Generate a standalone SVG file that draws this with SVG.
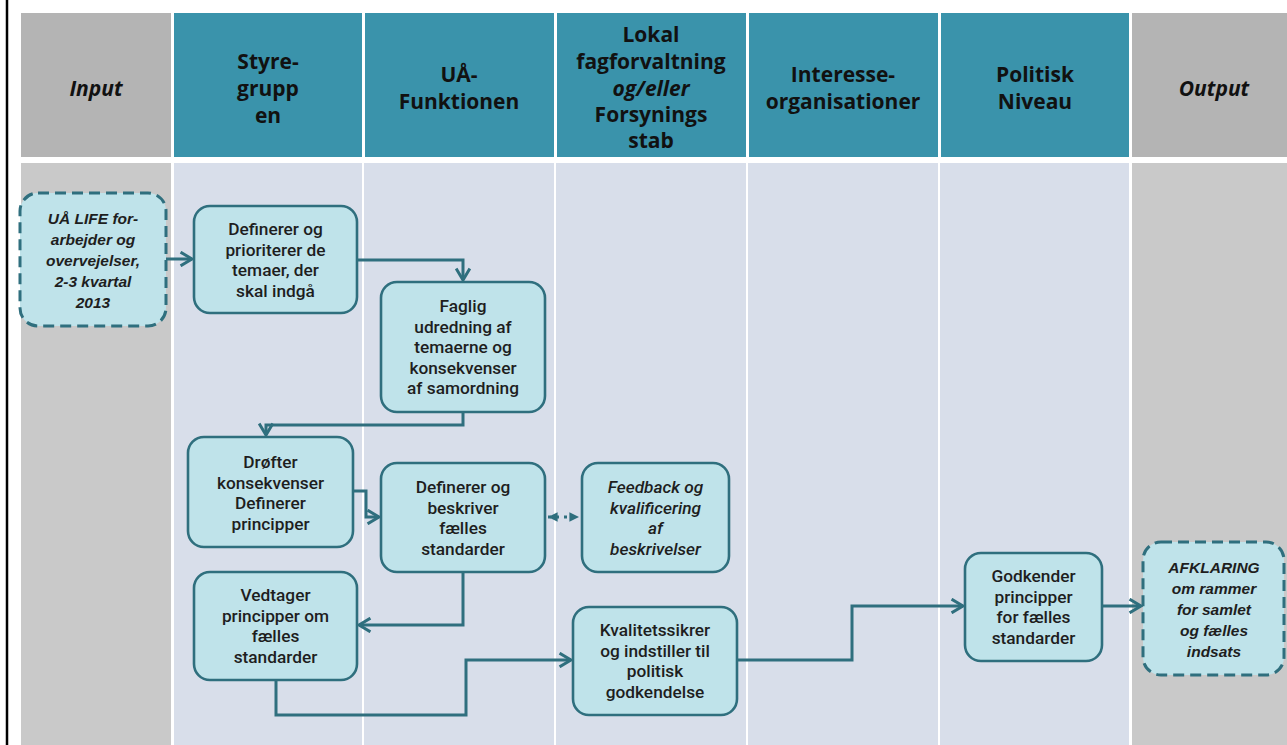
<svg xmlns="http://www.w3.org/2000/svg" width="1287" height="745" viewBox="0 0 1287 745">
<defs>
<style>
.hdr{fill:#3A93AB}
.hgray{fill:#B4B4B4}
.lane{fill:#D8DEEA}
.bgray{fill:#C9C9C9}
.ht{font-family:"Open Sans","Liberation Sans",sans-serif;font-weight:700;font-size:21px;fill:#111;text-anchor:middle}
.hti{font-style:italic}
.node{fill:#BFE3EA;stroke:#2F6F7E;stroke-width:2.6}
.dash{stroke-dasharray:11 6;stroke-width:3}
.nt{font-family:Roboto,"Liberation Sans",sans-serif;font-weight:500;font-size:17.3px;fill:#1E1E1E;text-anchor:middle}
.it{font-family:"Liberation Sans",Arial,sans-serif;font-weight:700;font-style:italic;font-size:15.5px;fill:#1E1E1E;text-anchor:middle}
.ni{font-style:italic}
.conn{fill:none;stroke:#2F6F7E;stroke-width:3}
.dot{stroke-dasharray:3 5;stroke-width:3}
</style>
<marker id="arr" markerUnits="userSpaceOnUse" markerWidth="16" markerHeight="16" refX="11" refY="7" orient="auto-start-reverse" viewBox="0 0 14 14">
<path d="M1,1 L11,7 L1,13" fill="none" stroke="#2F6F7E" stroke-width="2.6"/>
</marker>
<marker id="sarr" markerUnits="userSpaceOnUse" markerWidth="12" markerHeight="12" refX="9" refY="5" orient="auto-start-reverse" viewBox="0 0 10 10">
<path d="M1,1 L9,5 L1,9 Z" fill="#2F6F7E"/>
</marker>
</defs>
<rect width="1287" height="745" fill="#FFFFFF"/>
<line x1="7" y1="0" x2="7" y2="745" stroke="#000" stroke-width="2.5"/>

<g id="lanes">
<rect class="hgray" x="21" y="13" width="150" height="144"/>
<rect class="hdr" x="174" y="13" width="188" height="144"/>
<rect class="hdr" x="365" y="13" width="189" height="144"/>
<rect class="hdr" x="557" y="13" width="189" height="144"/>
<rect class="hdr" x="749" y="13" width="189" height="144"/>
<rect class="hdr" x="941" y="13" width="188" height="144"/>
<rect class="hgray" x="1132" y="13" width="155" height="144"/>
<rect class="bgray" x="21" y="163" width="150" height="582"/>
<rect class="lane" x="174" y="163" width="188" height="582"/>
<rect class="lane" x="364" y="163" width="190" height="582"/>
<rect class="lane" x="556" y="163" width="190" height="582"/>
<rect class="lane" x="748" y="163" width="190" height="582"/>
<rect class="lane" x="940" y="163" width="189" height="582"/>
<rect class="bgray" x="1132" y="163" width="155" height="582"/>
<text class="ht hti" x="96" y="96">Input</text>
<text class="ht" x="268" y="69">Styre-</text>
<text class="ht" x="268" y="96">grupp</text>
<text class="ht" x="268" y="123">en</text>
<text class="ht" x="459" y="82">UÅ-</text>
<text class="ht" x="459" y="109">Funktionen</text>
<text class="ht" x="651" y="42">Lokal</text>
<text class="ht" x="651" y="69">fagforvaltning</text>
<text class="ht hti" x="651" y="96">og/eller</text>
<text class="ht" x="651" y="122">Forsynings</text>
<text class="ht" x="651" y="148">stab</text>
<text class="ht" x="843" y="82">Interesse-</text>
<text class="ht" x="843" y="109">organisationer</text>
<text class="ht" x="1035" y="82">Politisk</text>
<text class="ht" x="1035" y="109">Niveau</text>
<text class="ht hti" x="1214" y="96">Output</text>
</g>

<g id="connectors">
<path class="conn" d="M166,259 H192" marker-end="url(#arr)"/>
<path class="conn" d="M357,260 H463 V280" marker-end="url(#arr)"/>
<path class="conn" d="M463,412 V425 H266 V435" marker-end="url(#arr)"/>
<path class="conn" d="M353,491 H366 V517 H379" marker-end="url(#arr)"/>
<path class="conn dot" d="M548,517 H579" marker-start="url(#sarr)" marker-end="url(#sarr)"/>
<path class="conn" d="M463,572 V625 H359" marker-end="url(#arr)"/>
<path class="conn" d="M276,680 V715 H466 V660 H571" marker-end="url(#arr)"/>
<path class="conn" d="M737,660 H852 V606 H963" marker-end="url(#arr)"/>
<path class="conn" d="M1102,606 H1141" marker-end="url(#arr)"/>
</g>

<g id="n-input">
<rect class="node dash" x="20" y="193" width="146" height="133" rx="18"/>
<text class="it" x="93" y="224">UÅ LIFE for-</text>
<text class="it" x="93" y="245">arbejder og</text>
<text class="it" x="93" y="266">overvejelser,</text>
<text class="it" x="93" y="287">2-3 kvartal</text>
<text class="it" x="93" y="308">2013</text>
</g>

<g id="n-definerer-prioriterer">
<rect class="node" x="194" y="206" width="163" height="107" rx="16"/>
<text class="nt" x="275.5" y="235">Definerer og</text>
<text class="nt" x="275.5" y="255.5">prioriterer de</text>
<text class="nt" x="275.5" y="276">temaer, der</text>
<text class="nt" x="275.5" y="296.5">skal indgå</text>
</g>

<g id="n-faglig">
<rect class="node" x="381" y="282" width="164" height="130" rx="16"/>
<text class="nt" x="463" y="312">Faglig</text>
<text class="nt" x="463" y="332.5">udredning af</text>
<text class="nt" x="463" y="353">temaerne og</text>
<text class="nt" x="463" y="373.5">konsekvenser</text>
<text class="nt" x="463" y="394">af samordning</text>
</g>

<g id="n-drofter">
<rect class="node" x="188" y="437" width="165" height="110" rx="16"/>
<text class="nt" x="270.5" y="468">Drøfter</text>
<text class="nt" x="270.5" y="488.5">konsekvenser</text>
<text class="nt" x="270.5" y="509">Definerer</text>
<text class="nt" x="270.5" y="529.5">principper</text>
</g>

<g id="n-definerer-beskriver">
<rect class="node" x="381" y="463" width="164" height="109" rx="16"/>
<text class="nt" x="463" y="493">Definerer og</text>
<text class="nt" x="463" y="513.5">beskriver</text>
<text class="nt" x="463" y="534">fælles</text>
<text class="nt" x="463" y="554.5">standarder</text>
</g>

<g id="n-feedback">
<rect class="node" x="582" y="463" width="147" height="109" rx="16"/>
<text class="nt ni" x="655.5" y="493">Feedback og</text>
<text class="nt ni" x="655.5" y="513.5">kvalificering</text>
<text class="nt ni" x="655.5" y="534">af</text>
<text class="nt ni" x="655.5" y="554.5">beskrivelser</text>
</g>

<g id="n-vedtager">
<rect class="node" x="194" y="572" width="163" height="108" rx="16"/>
<text class="nt" x="275.5" y="601">Vedtager</text>
<text class="nt" x="275.5" y="621.5">principper om</text>
<text class="nt" x="275.5" y="642">fælles</text>
<text class="nt" x="275.5" y="662.5">standarder</text>
</g>

<g id="n-kvalitetssikrer">
<rect class="node" x="573" y="607" width="164" height="108" rx="16"/>
<text class="nt" x="655" y="636">Kvalitetssikrer</text>
<text class="nt" x="655" y="656.5">og indstiller til</text>
<text class="nt" x="655" y="677">politisk</text>
<text class="nt" x="655" y="697.5">godkendelse</text>
</g>

<g id="n-godkender">
<rect class="node" x="965" y="553" width="137" height="108" rx="16"/>
<text class="nt" x="1033.5" y="582">Godkender</text>
<text class="nt" x="1033.5" y="602.5">principper</text>
<text class="nt" x="1033.5" y="623">for fælles</text>
<text class="nt" x="1033.5" y="643.5">standarder</text>
</g>

<g id="n-output">
<rect class="node dash" x="1143" y="542" width="141" height="133" rx="18"/>
<text class="it" x="1214" y="573">AFKLARING</text>
<text class="it" x="1214" y="594">om rammer</text>
<text class="it" x="1214" y="615">for samlet</text>
<text class="it" x="1214" y="636">og fælles</text>
<text class="it" x="1214" y="657">indsats</text>
</g>
</svg>
